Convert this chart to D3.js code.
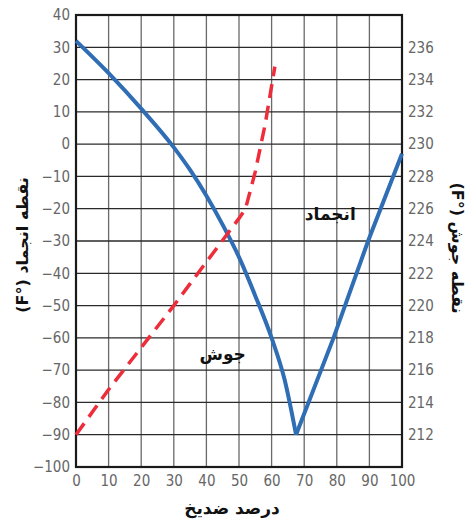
<!DOCTYPE html>
<html>
<head>
<meta charset="utf-8">
<script src="https://cdn.jsdelivr.net/npm/d3@7"></script>
<style>
  body { margin: 0; background: #fff; }
  .tick text { font-family: "Liberation Sans Narrow", "DejaVu Sans Condensed", sans-serif; font-size: 15px; fill: #666; }
  .title { font-family: "DejaVu Sans", sans-serif; font-weight: bold; fill: #111; }
</style>
</head>
<body>
<svg></svg>
<script>
// percent antifreeze vs freezing point (left axis)
var freezeX = [0, 10, 20, 30, 35, 40, 45, 50, 55, 60, 64, 67.5];
var freezeY = [32, 22, 11, -1, -8, -16, -25, -35, -47, -60, -73, -90];
// right branch of freezing curve
var freeze2X = [67.5, 79, 89.6, 100];
var freeze2Y = [-90, -60, -30, -3];

// boiling point (right axis)
var boilX = [0, 10, 20, 30, 40, 50, 52, 55, 58, 61];
var boilY = [212, 214.8, 217.4, 220, 222.7, 225.4, 226, 228.3, 231.2, 234.8];

var xTicks = [0, 10, 20, 30, 40, 50, 60, 70, 80, 90, 100];
var leftTicks = [40, 30, 20, 10, 0, -10, -20, -30, -40, -50, -60, -70, -80, -90, -100];
var rightTicks = [212, 214, 216, 218, 220, 222, 224, 226, 228, 230, 232, 234, 236];

var svgWidth = 468, svgHeight = 523;
var pLeft = 76, pRight = 402, pTop = 15, pBottom = 467;

var svg = d3.select('svg')
    .attr('width', svgWidth)
    .attr('height', svgHeight);

var x = d3.scaleLinear().domain([0, 100]).range([pLeft, pRight]);
var yL = d3.scaleLinear().domain([-100, 40]).range([pBottom, pTop]);
var yR = d3.scaleLinear().domain([210, 238]).range([pBottom, pTop]);

// grid
svg.append('g').selectAll('line')
    .data(xTicks.slice(1, -1))
    .enter().append('line')
    .attr('x1', d => x(d)).attr('x2', d => x(d))
    .attr('y1', pTop).attr('y2', pBottom)
    .attr('stroke', '#6a6a6a').attr('stroke-width', 1.3);

svg.append('g').selectAll('line')
    .data(leftTicks.slice(1, -1))
    .enter().append('line')
    .attr('x1', pLeft).attr('x2', pRight)
    .attr('y1', d => yL(d)).attr('y2', d => yL(d))
    .attr('stroke', '#2a2a2a').attr('stroke-width', 1.3);

// frame
svg.append('rect')
    .attr('x', pLeft).attr('y', pTop)
    .attr('width', pRight - pLeft).attr('height', pBottom - pTop)
    .attr('fill', 'none').attr('stroke', '#1a1a1a').attr('stroke-width', 2.2);

// axes
svg.append('g')
    .attr('transform', 'translate(0,' + pBottom + ')')
    .call(d3.axisBottom(x).tickValues(xTicks).tickSize(0).tickPadding(8));
svg.append('g')
    .attr('transform', 'translate(' + pLeft + ',0)')
    .call(d3.axisLeft(yL).tickValues(leftTicks).tickSize(0).tickPadding(6));
svg.append('g')
    .attr('transform', 'translate(' + pRight + ',0)')
    .call(d3.axisRight(yR).tickValues(rightTicks).tickSize(0).tickPadding(6));
svg.selectAll('.domain').remove();

// curves
var freezeLine = d3.line()
    .x((d, i) => x(freezeX[i]))
    .y(d => yL(d))
    .curve(d3.curveMonotoneX);

svg.append('path')
    .attr('d', freezeLine(freezeY))
    .attr('fill', 'none').attr('stroke', '#2f6db5').attr('stroke-width', 4);

var freezeLine2 = d3.line()
    .x((d, i) => x(freeze2X[i]))
    .y(d => yL(d));

svg.append('path')
    .attr('d', freezeLine2(freeze2Y))
    .attr('fill', 'none').attr('stroke', '#2f6db5').attr('stroke-width', 4);

var boilLine = d3.line()
    .x((d, i) => x(boilX[i]))
    .y(d => yR(d));

svg.append('path')
    .attr('d', boilLine(boilY))
    .attr('fill', 'none').attr('stroke', '#ee2d3b').attr('stroke-width', 3.5)
    .attr('stroke-dasharray', '14,8');

// labels in the plot
svg.append('text').attr('class', 'title')
    .attr('x', x(78)).attr('y', yL(-23.5))
    .attr('text-anchor', 'middle').attr('font-size', 17)
    .text('انجماد');

svg.append('text').attr('class', 'title')
    .attr('x', x(45)).attr('y', yL(-67))
    .attr('text-anchor', 'middle').attr('font-size', 17)
    .text('جوش');

// axis titles (written in visual order so the bracket stays as F°)
svg.append('text').attr('class', 'title')
    .attr('transform', 'translate(28,245) rotate(-90)')
    .attr('text-anchor', 'middle').attr('font-size', 16)
    .text('(F°) نقطه انجماد');

svg.append('text').attr('class', 'title')
    .attr('transform', 'translate(452,248) rotate(90)')
    .attr('text-anchor', 'middle').attr('font-size', 16)
    .text('(F°) نقطه جوش');

svg.append('text').attr('class', 'title')
    .attr('x', 232).attr('y', 514)
    .attr('text-anchor', 'middle').attr('font-size', 17)
    .text('درصد ضدیخ');
</script>
</body>
</html>
